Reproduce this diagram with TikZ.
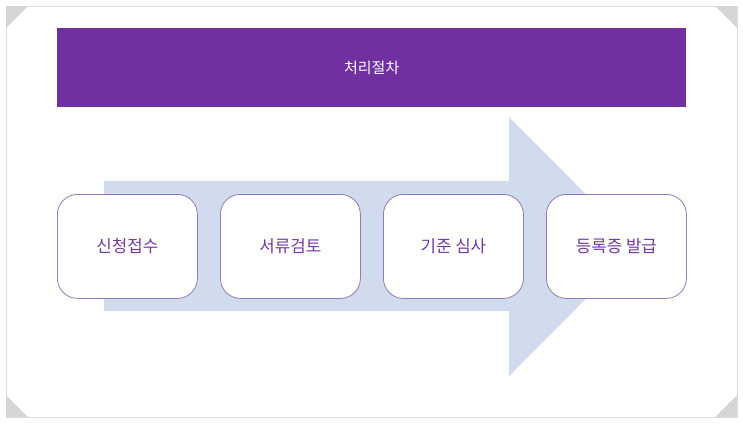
\documentclass[tikz,border=0pt]{standalone}
\usepackage{fontspec}
\newfontfamily\kr{Noto Sans CJK KR}
\definecolor{barpurple}{HTML}{7030A0}
\definecolor{boxtext}{HTML}{7438A4}
\definecolor{boxline}{HTML}{9379B5}
\definecolor{arrowblue}{HTML}{D0DCEE}
\definecolor{framegray}{HTML}{DCDCDC}
\definecolor{cornergray}{HTML}{D6D6D6}
\tikzset{
  stagebox/.style={draw=boxline, line width=0.8pt, fill=white, rounded corners=20pt,
    minimum width=140pt, minimum height=104pt, inner sep=0pt, anchor=north west,
    text=boxtext, font=\kr\fontsize{16.8}{20}\selectfont},
  corner/.style={fill=cornergray, draw=none}
}
\begin{document}
\begin{tikzpicture}[x=1pt,y=-1pt]
\useasboundingbox (0,0) rectangle (743,424);
\fill[white] (0,0) rectangle (743,424);
% frame
\draw[framegray, line width=0.8pt] (6,6) rectangle (737,417);
\fill[corner] (6,6) -- (28,6) -- (6,28) -- cycle;
\fill[corner] (737,6) -- (715,6) -- (737,28) -- cycle;
\fill[corner] (6,417) -- (28,417) -- (6,395) -- cycle;
\fill[corner] (737,417) -- (715,417) -- (737,395) -- cycle;
% title bar
\node[fill=barpurple, minimum width=629pt, minimum height=79pt, inner sep=0pt,
  anchor=north west, text=white, font=\kr\fontsize{15}{18}\selectfont]
  (title) at (57,28) {처리절차};
% big arrow
\fill[arrowblue] (104,181) -- (509,181) -- (509,117) -- (638,246.5) -- (509,376) -- (509,311) -- (104,311) -- cycle;
% boxes
\node[stagebox] (s1) at (57,194) {신청접수};
\node[stagebox] (s2) at (220,194) {서류검토};
\node[stagebox] (s3) at (383,194) {기준 심사};
\node[stagebox] (s4) at (546,194) {등록증 발급};
\end{tikzpicture}
\end{document}
